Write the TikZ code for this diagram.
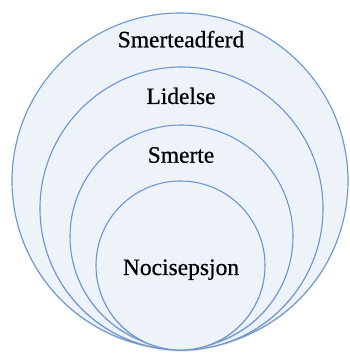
\documentclass[tikz,border=0pt]{standalone}
\usepackage{fontspec}
\setmainfont{Liberation Serif}[FakeBold=0.5]
\newfontfamily\lblfont{Liberation Serif}[FakeBold=0.6]
\usetikzlibrary{shadows}
\definecolor{ringfill}{HTML}{EEF2F9}
\definecolor{ringline}{HTML}{6A97CF}
\tikzset{
  ring/.style={draw=ringline, line width=1.1pt, fill=ringfill,
    drop shadow={shadow xshift=0pt, shadow yshift=-1.5pt, opacity=0.18, fill=black!60}},
  lbl/.style={anchor=base, inner sep=0pt, font=\lblfont\bfseries\fontsize{23.5}{26}\selectfont, text=black}
}
\begin{document}
\begin{tikzpicture}[x=1pt,y=1pt]
\useasboundingbox (0,0) rectangle (350,356);
\fill[white] (0,0) rectangle (350,356);
% y_tikz = 356 - y_image
\path[ring] (180,175) circle (168);
\path[ring] (181.5,147.5) circle (141.5);
\path[ring] (181.5,119.5) circle (111.5);
\path[ring] (180.5,90.5) circle (84.5);
\node[lbl] (t1) at (181,308.7) {\mdseries Smerteadferd};
\node[lbl] (t2) at (181,252) {\mdseries Lidelse};
\node[lbl] (t3) at (181,193.3) {\mdseries Smerte};
\node[lbl] (t4) at (181,81) {\mdseries Nocisepsjon};
\end{tikzpicture}
\end{document}
